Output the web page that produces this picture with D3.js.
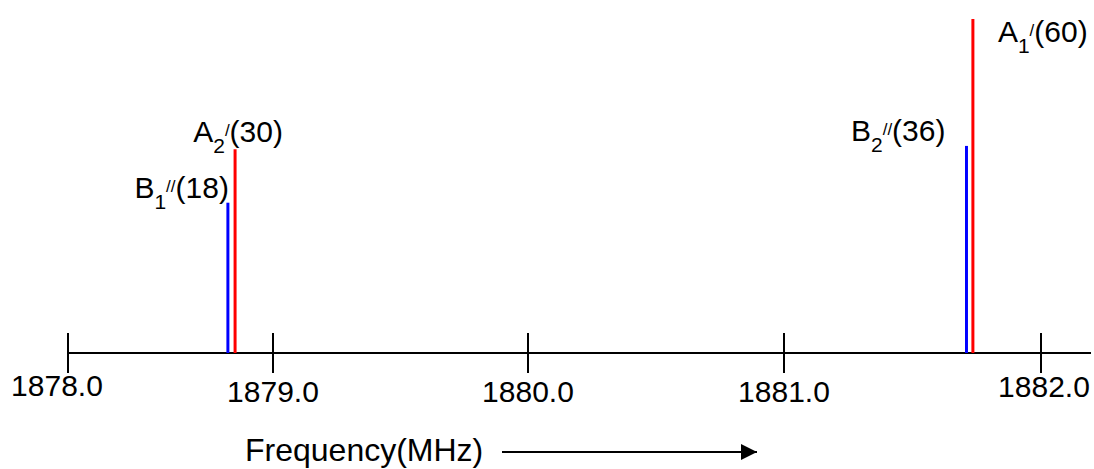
<!DOCTYPE html>
<html lang="en">
<head>
<meta charset="utf-8">
<title>Frequency lines</title>
<script src="https://cdn.jsdelivr.net/npm/d3@7"></script>
<style>
    body { margin: 0; background: #fff; }
    svg { display: block; font-family: "Liberation Sans", Arial, sans-serif; }
    .tick-label { font-size: 30px; fill: #000; }
    .line-label { font-size: 30px; fill: #000; }
    .axis-title { font-size: 32px; fill: #000; }
</style>
</head>
<body>
<script type="text/javascript">

    // axis ticks
    var tickValues = [1878.0, 1879.0, 1880.0, 1881.0, 1882.0];
    var tickLabels = ['1878.0', '1879.0', '1880.0', '1881.0', '1882.0'];

    // spectral lines (left to right)
    var lineSymbol = ['B', 'A', 'B', 'A'];
    var lineSub = ['1', '2', '2', '1'];
    var linePrime = ['//', '/', '//', '/'];
    var lineCount = [18, 30, 36, 60];
    var lineFreq = [1878.78, 1878.815, 1881.71, 1881.735];
    var lineHeight = [45, 61, 62, 100];

    var axisTitle = 'Frequency(MHz)';

    var width = 1094, height = 469;
    var axisY = 353;

    var colorList = {'A': '#ff0000', 'B': '#0000ff'};

    // label placement: anchor, dx from line, dy from line top
    var labelPlace = [
        {anchor: 'end', dx: 1, dy: -5},
        {anchor: 'middle', dx: 3, dy: -7},
        {anchor: 'end', dx: -21, dy: -5},
        {anchor: 'start', dx: 25, dy: 23}
    ];
    // the tick labels are not all centred on their tick
    var tickLabelShift = [[-11, 396], [0, 402], [0, 402], [0, 402], [3, 397]];

    var x = d3.scaleLinear()
        .domain(tickValues)
        .range([68, 273, 528, 784, 1041]);

    var y = d3.scaleLinear()
        .domain([0, 100])
        .range([axisY, 19]);

    var svg = d3.select('body').append('svg')
        .attr('width', width)
        .attr('height', height);

    svg.append('rect')
        .attr('width', width)
        .attr('height', height)
        .attr('fill', '#fff');

    // baseline axis
    svg.append('line')
        .attr('x1', x(tickValues[0]))
        .attr('x2', 1091)
        .attr('y1', axisY)
        .attr('y2', axisY)
        .attr('stroke', '#000')
        .attr('stroke-width', 2);

    svg.selectAll('.tick')
        .data(tickValues)
        .enter()
        .append('line')
        .attr('class', 'tick')
        .attr('x1', function (d) { return x(d); })
        .attr('x2', function (d) { return x(d); })
        .attr('y1', axisY - 20)
        .attr('y2', axisY + 20)
        .attr('stroke', '#000')
        .attr('stroke-width', 2);

    svg.selectAll('.tick-label')
        .data(tickValues)
        .enter()
        .append('text')
        .attr('class', 'tick-label')
        .attr('text-anchor', 'middle')
        .attr('x', function (d, i) { return x(d) + tickLabelShift[i][0]; })
        .attr('y', function (d, i) { return tickLabelShift[i][1]; })
        .text(function (d, i) { return tickLabels[i]; });

    // spectral lines
    svg.selectAll('.spec')
        .data(lineFreq)
        .enter()
        .append('line')
        .attr('class', 'spec')
        .attr('x1', function (d) { return x(d); })
        .attr('x2', function (d) { return x(d); })
        .attr('y1', function (d, i) { return y(lineHeight[i]); })
        .attr('y2', axisY)
        .attr('stroke', function (d, i) { return colorList[lineSymbol[i]]; })
        .attr('stroke-width', 3);

    // labels like A1/(60)
    for (var i = 0; i < lineFreq.length; i++) {
        var p = labelPlace[i];
        var t = svg.append('text')
            .attr('class', 'line-label')
            .attr('text-anchor', p.anchor)
            .attr('x', x(lineFreq[i]) + p.dx)
            .attr('y', y(lineHeight[i]) + p.dy);
        t.append('tspan').text(lineSymbol[i]);
        t.append('tspan')
            .attr('font-size', 21)
            .attr('dy', 11)
            .text(lineSub[i]);
        t.append('tspan')
            .attr('font-size', 17)
            .attr('dy', -17)
            .text(linePrime[i]);
        t.append('tspan')
            .attr('dy', 6)
            .text('(' + lineCount[i] + ')');
    }

    // axis title with arrow
    svg.append('defs').append('marker')
        .attr('id', 'arrow')
        .attr('viewBox', '0 0 10 10')
        .attr('refX', 10)
        .attr('refY', 5)
        .attr('markerUnits', 'userSpaceOnUse')
        .attr('markerWidth', 16)
        .attr('markerHeight', 17)
        .attr('orient', 'auto')
        .append('path')
        .attr('d', 'M0,0L10,5L0,10Z')
        .attr('fill', '#000');

    svg.append('text')
        .attr('class', 'axis-title')
        .attr('x', 245)
        .attr('y', 461)
        .text(axisTitle);

    svg.append('line')
        .attr('x1', 502)
        .attr('x2', 757)
        .attr('y1', 452)
        .attr('y2', 452)
        .attr('stroke', '#000')
        .attr('stroke-width', 2)
        .attr('marker-end', 'url(#arrow)');

</script>
</body>
</html>
